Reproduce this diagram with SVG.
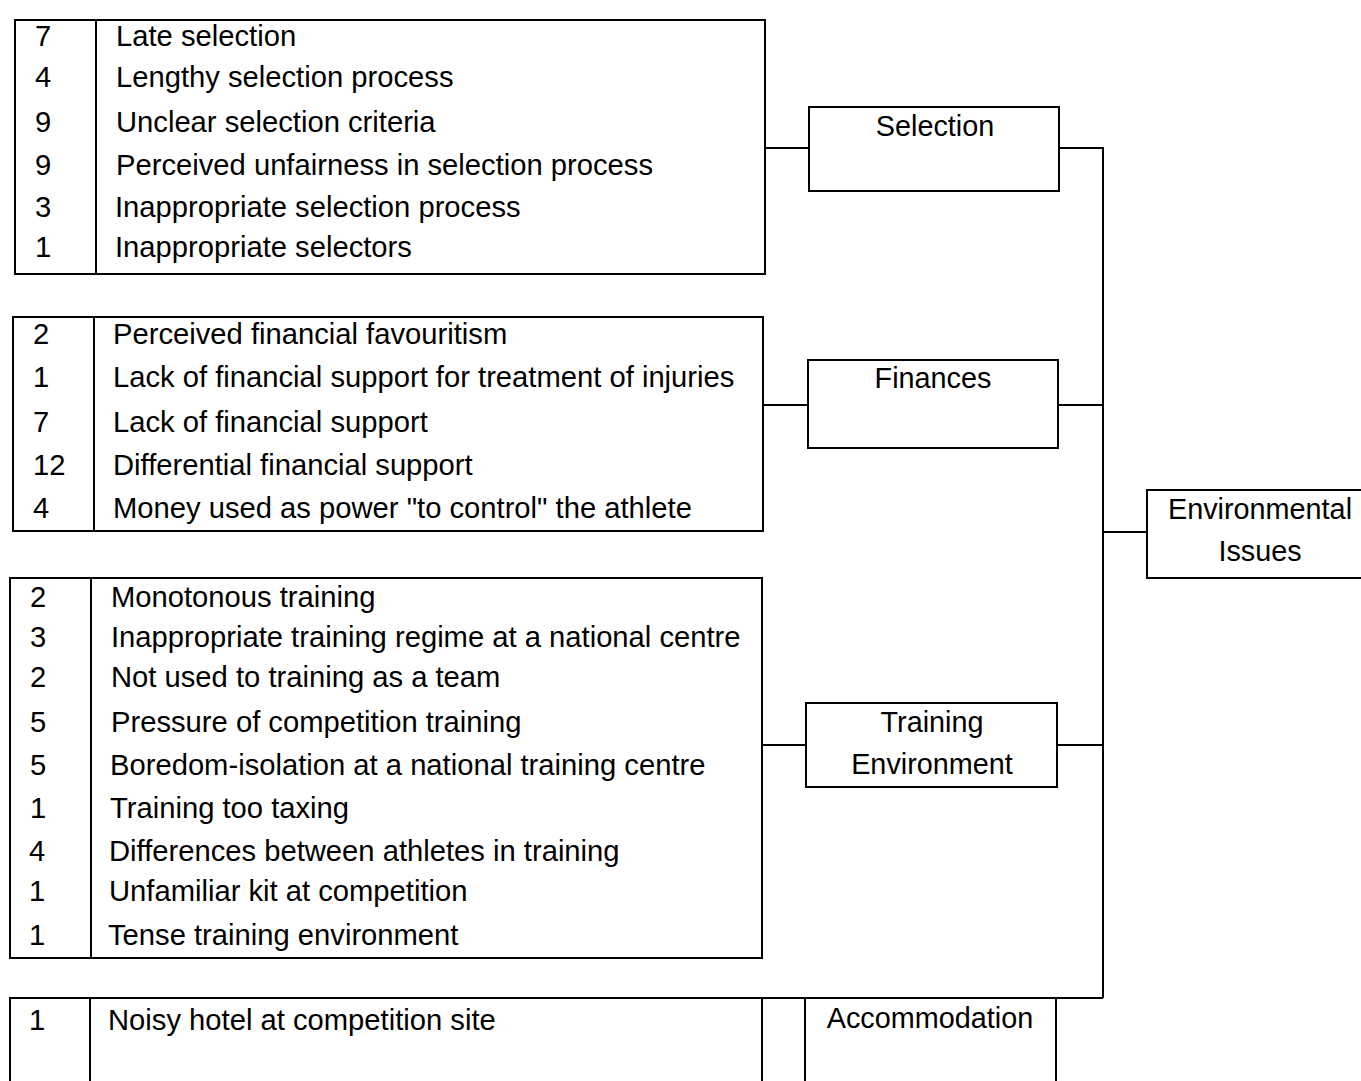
<svg xmlns="http://www.w3.org/2000/svg" width="1361" height="1081" viewBox="0 0 1361 1081">
<style>
.box{fill:#fff;stroke:#000;stroke-width:2}
.ln{fill:none;stroke:#000;stroke-width:2}
text{font-family:"Liberation Sans",Arial,sans-serif;font-size:29.2px;fill:#000}
.c{text-anchor:middle;font-size:28.8px}
</style>
<rect width="1361" height="1081" fill="#fff"/>
<g id="connectors">
<line class="ln" x1="765" y1="148" x2="809" y2="148"/>
<polyline class="ln" points="1059,148 1103,148 1103,998"/>
<line class="ln" x1="763" y1="405" x2="808" y2="405"/>
<line class="ln" x1="1058" y1="405" x2="1103" y2="405"/>
<line class="ln" x1="1103" y1="532" x2="1147" y2="532"/>
<line class="ln" x1="762" y1="745" x2="806" y2="745"/>
<line class="ln" x1="1057" y1="745" x2="1103" y2="745"/>
<line class="ln" x1="10" y1="998" x2="1103" y2="998"/>
</g>
<g id="table-selection">
<rect class="box" x="15" y="20" width="750" height="254"/>
<line class="ln" x1="96" y1="20" x2="96" y2="274"/>
<text x="35" y="46">7</text><text x="116" y="46">Late selection</text>
<text x="35" y="87">4</text><text x="116" y="87">Lengthy selection process</text>
<text x="35" y="132">9</text><text x="116" y="132">Unclear selection criteria</text>
<text x="35" y="175">9</text><text x="116" y="175">Perceived unfairness in selection process</text>
<text x="35" y="217">3</text><text x="115" y="217">Inappropriate selection process</text>
<text x="35" y="257">1</text><text x="115" y="257">Inappropriate selectors</text>
</g>
<g id="node-selection">
<rect class="box" x="809" y="107" width="250" height="84"/>
<text class="c" x="935" y="136">Selection</text>
</g>
<g id="table-finances">
<rect class="box" x="13" y="317" width="750" height="214"/>
<line class="ln" x1="94" y1="317" x2="94" y2="531"/>
<text x="33" y="344">2</text><text x="113" y="344">Perceived financial favouritism</text>
<text x="33" y="387">1</text><text x="113" y="387">Lack of financial support for treatment of injuries</text>
<text x="33" y="432">7</text><text x="113" y="432">Lack of financial support</text>
<text x="33" y="475">12</text><text x="113" y="475">Differential financial support</text>
<text x="33" y="518">4</text><text x="113" y="518">Money used as power "to control" the athlete</text>
</g>
<g id="node-finances">
<rect class="box" x="808" y="360" width="250" height="88"/>
<text class="c" x="933" y="388">Finances</text>
</g>
<g id="node-environmental">
<rect class="box" x="1147" y="490" width="220" height="88"/>
<text class="c" x="1260" y="519">Environmental</text>
<text class="c" x="1260" y="561">Issues</text>
</g>
<g id="table-training">
<rect class="box" x="10" y="578" width="752" height="380"/>
<line class="ln" x1="91" y1="578" x2="91" y2="958"/>
<text x="30" y="607">2</text><text x="111" y="607">Monotonous training</text>
<text x="30" y="647">3</text><text x="111" y="647">Inappropriate training regime at a national centre</text>
<text x="30" y="687">2</text><text x="111" y="687">Not used to training as a team</text>
<text x="30" y="732">5</text><text x="111" y="732">Pressure of competition training</text>
<text x="30" y="775">5</text><text x="110" y="775">Boredom-isolation at a national training centre</text>
<text x="30" y="818">1</text><text x="110" y="818">Training too taxing</text>
<text x="29" y="861">4</text><text x="109" y="861">Differences between athletes in training</text>
<text x="29" y="901">1</text><text x="109" y="901">Unfamiliar kit at competition</text>
<text x="29" y="945">1</text><text x="108" y="945">Tense training environment</text>
</g>
<g id="node-training">
<rect class="box" x="806" y="703" width="251" height="84"/>
<text class="c" x="932" y="732">Training</text>
<text class="c" x="932" y="774">Environment</text>
</g>
<g id="table-accommodation">
<polyline class="ln" points="10,1090 10,998 762,998 762,1090"/>
<line class="ln" x1="90" y1="998" x2="90" y2="1090"/>
<text x="29" y="1030">1</text><text x="108" y="1030">Noisy hotel at competition site</text>
</g>
<g id="node-accommodation">
<polyline class="ln" points="805,1090 805,998 1056,998 1056,1090"/>
<text class="c" x="930" y="1028">Accommodation</text>
</g>
</svg>
